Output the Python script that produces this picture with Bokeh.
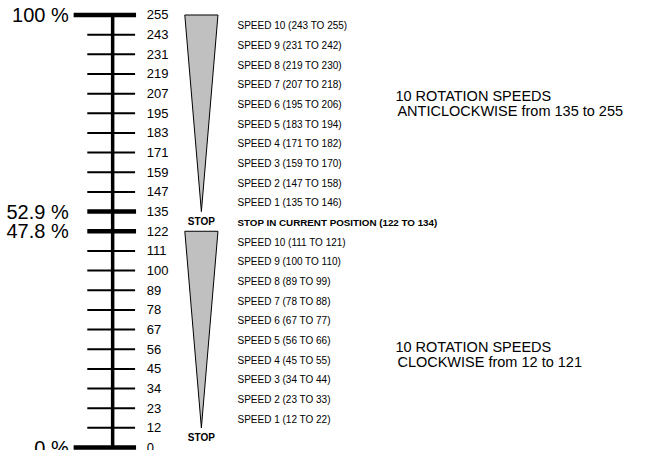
from bokeh.plotting import figure
from bokeh.models import Range1d
from bokeh.core.properties import value
from bokeh.embed import file_html
from bokeh.resources import INLINE

# ---- data ----
tick_labels = ["0", "12", "23", "34", "45", "56", "67", "78", "89", "100", "111",
               "122", "135", "147", "159", "171", "183", "195", "207", "219", "231", "243", "255"]
percent_labels = ["100 %", "52.9 %", "47.8 %", "0 %"]
percent_at = ["255", "135", "122", "0"]
anticlockwise_labels = ["SPEED 1 (135 TO 146)", "SPEED 2 (147 TO 158)", "SPEED 3 (159 TO 170)",
                        "SPEED 4 (171 TO 182)", "SPEED 5 (183 TO 194)", "SPEED 6 (195 TO 206)",
                        "SPEED 7 (207 TO 218)", "SPEED 8 (219 TO 230)", "SPEED 9 (231 TO 242)",
                        "SPEED 10 (243 TO 255)"]
clockwise_labels = ["SPEED 1 (12 TO 22)", "SPEED 2 (23 TO 33)", "SPEED 3 (34 TO 44)",
                    "SPEED 4 (45 TO 55)", "SPEED 5 (56 TO 66)", "SPEED 6 (67 TO 77)",
                    "SPEED 7 (78 TO 88)", "SPEED 8 (89 TO 99)", "SPEED 9 (100 TO 110)",
                    "SPEED 10 (111 TO 121)"]
stop_label = "STOP IN CURRENT POSITION (122 TO 134)"
anticlockwise_wedge = ["135", "255"]   # tip, top
clockwise_wedge = ["12", "122"]        # tip, top
block_anti = ["10 ROTATION SPEEDS", "ANTICLOCKWISE from 135 to 255"]
block_clock = ["10 ROTATION SPEEDS", "CLOCKWISE from 12 to 121"]

FONT = value("Liberation Sans")

W, H = 629, 450
n = len(tick_labels) - 1
# scale: the whole 645x466 original drawing is fitted into the figure
step = 20.36
top_px = 15.0
p = figure(width=W, height=H, output_backend="svg", toolbar_location=None,
           x_range=Range1d(0, 645),
           y_range=Range1d(n - (466 - top_px) / step, n + top_px / step),
           min_border=0, outline_line_color=None)
p.axis.visible = False
p.grid.visible = False
p.background_fill_color = "white"
p.border_fill_color = "white"

idx = {lab: i for i, lab in enumerate(tick_labels)}
thick = set(percent_at)

# vertical scale line
p.segment(x0=[115], y0=[0], x1=[115], y1=[n], line_color="black", line_width=3.5)

# normal ticks
norm = [i for i, lab in enumerate(tick_labels) if lab not in thick]
p.segment(x0=[89] * len(norm), y0=norm, x1=[138] * len(norm), y1=norm,
          line_color="black", line_width=2)
# thick ticks
ends = [idx[percent_at[0]], idx[percent_at[3]]]
mids = [idx[percent_at[1]], idx[percent_at[2]]]
p.segment(x0=[75] * 2, y0=ends, x1=[139] * 2, y1=ends, line_color="black", line_width=4.5)
p.segment(x0=[89] * 2, y0=mids, x1=[139] * 2, y1=mids, line_color="black", line_width=4.5)

# tick labels
p.text(x=[150] * len(tick_labels), y=list(range(len(tick_labels))), text=tick_labels,
       text_font=FONT, text_font_size="13px", text_baseline="middle", text_align="left",
       text_color="black")

# percent labels
p.text(x=[70] * 4, y=[idx[v] for v in percent_at], text=percent_labels,
       text_font=FONT, text_font_size="20px", text_baseline="middle", text_align="right",
       text_color="black")

# wedges
a0, a1 = idx[anticlockwise_wedge[0]], idx[anticlockwise_wedge[1]]
c0, c1 = idx[clockwise_wedge[0]], idx[clockwise_wedge[1]]
p.patches(xs=[[189, 223, 206], [189, 223, 206]],
          ys=[[a1, a1, a0], [c1, c1, c0]],
          fill_color="#c0c0c0", line_color="black", line_width=1)

# STOP labels
p.text(x=[206, 206], y=[(a0 + c1) / 2, 0.5], text=["STOP", "STOP"],
       text_font=FONT, text_font_size="10px", text_font_style="bold",
       text_baseline="middle", text_align="center", text_color="black")

# speed labels
ya = [a0 + k + 0.45 for k in range(len(anticlockwise_labels))]
yc = [c0 + k + 0.45 for k in range(len(clockwise_labels))]
p.text(x=[243] * len(ya), y=ya, text=anticlockwise_labels, text_font=FONT,
       text_font_size="10px", text_baseline="middle", text_align="left", text_color="black")
p.text(x=[243] * len(yc), y=yc, text=clockwise_labels, text_font=FONT,
       text_font_size="10px", text_baseline="middle", text_align="left", text_color="black")
p.text(x=[243], y=[c1 + 0.45], text=[stop_label], text_font=FONT, text_font_size="9.8px",
       text_font_style="bold", text_baseline="middle", text_align="left", text_color="black")

# description blocks
p.text(x=[405, 407], y=[17.87, 17.14], text=block_anti, text_font=FONT,
       text_font_size="14.5px", text_baseline="middle", text_align="left", text_color="black")
p.text(x=[405, 407], y=[5.10, 4.37], text=block_clock, text_font=FONT,
       text_font_size="14.5px", text_baseline="middle", text_align="left", text_color="black")

open("out.html", "w").write(file_html(p, INLINE))
